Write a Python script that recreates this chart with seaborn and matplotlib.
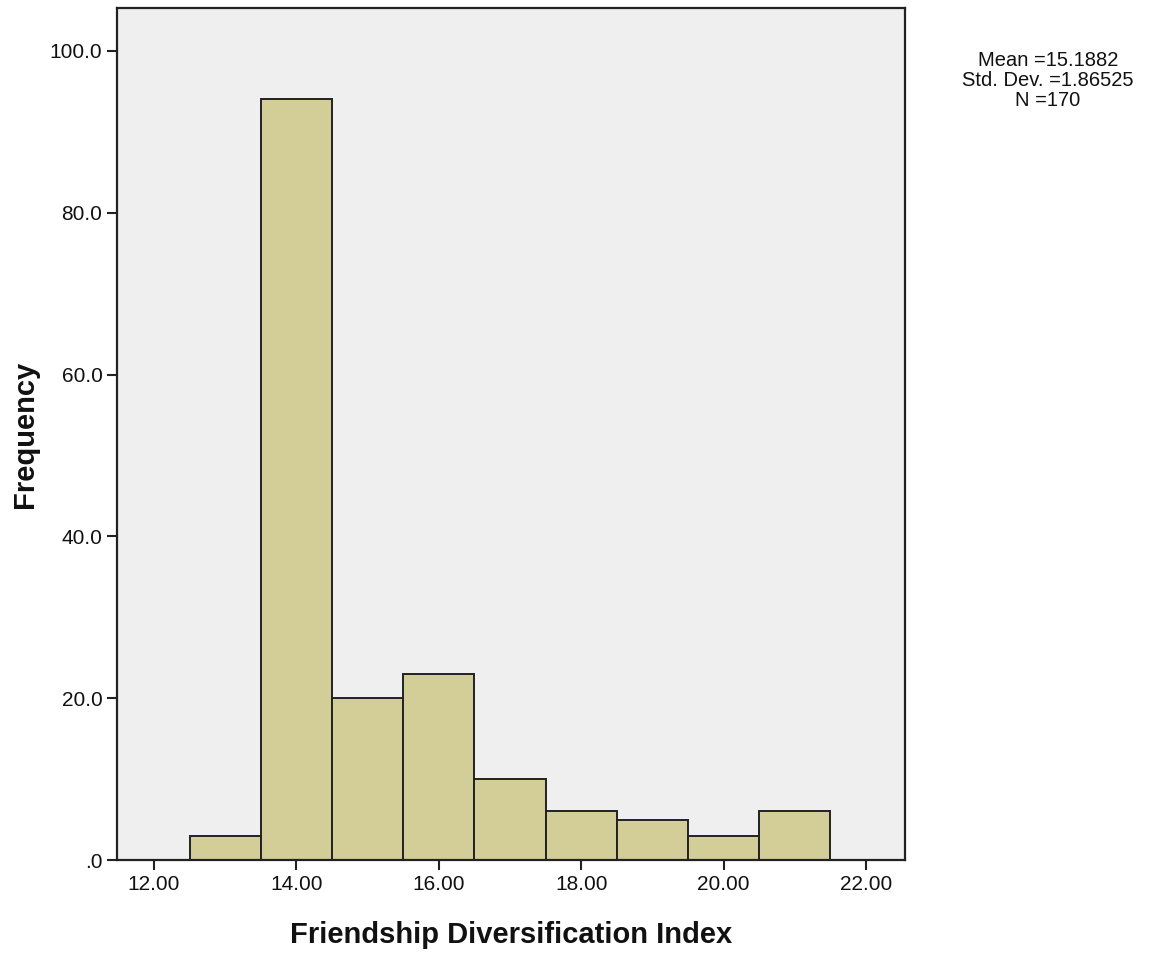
import pandas as pd
import matplotlib
matplotlib.use("Agg")
import matplotlib.pyplot as plt
import seaborn as sns

# Histogram bins (centres) and counts
bin_centers = [13, 14, 15, 16, 17, 18, 19, 20, 21]
counts = [3, 94, 20, 23, 10, 6, 5, 3, 6]
x_ticks = [12, 14, 16, 18, 20, 22]
y_ticks = [0, 20, 40, 60, 80, 100]
stats_text = "Mean =15.1882\nStd. Dev. =1.86525\nN =170"

df = pd.DataFrame({"index": bin_centers, "count": counts})

sns.set_style("ticks")
plt.rcParams['font.family'] = ['Liberation Sans', 'DejaVu Sans']

fig = plt.figure(figsize=(11.52, 9.56), dpi=100)
ax = fig.add_axes([0.1016, 0.1004, 0.6840, 0.8912])
ax.set_facecolor("#efefef")

sns.histplot(data=df, x="index", weights="count", binwidth=1, binrange=(12.5, 21.5),
             color="#d3ce97", alpha=1, edgecolor="#222222", linewidth=1.4, ax=ax)

ax.set_xlim(11.48, 22.55)
ax.set_ylim(0, 105.3)
ax.set_xticks(x_ticks)
ax.set_xticklabels([f"{t:.2f}" for t in x_ticks])
ax.set_yticks(y_ticks)
ax.set_yticklabels([".0"] + [f"{t:.1f}" for t in y_ticks[1:]])
ax.tick_params(direction="out", length=7, width=1.5, labelsize=15, color="#222222",
               labelcolor="#111111")
for s in ax.spines.values():
    s.set_linewidth(1.6)
    s.set_color("#222222")

ax.set_xlabel("Friendship Diversification Index", fontsize=21, fontweight="bold",
              labelpad=20, color="#111111")
ax.set_ylabel("Frequency", fontsize=21, fontweight="bold", labelpad=8, color="#111111")

fig.text(0.9097, 0.916, stats_text, ha="center", va="center", fontsize=14.5,
         linespacing=1.07, color="#111111")

fig.savefig("out.png", dpi=100)
